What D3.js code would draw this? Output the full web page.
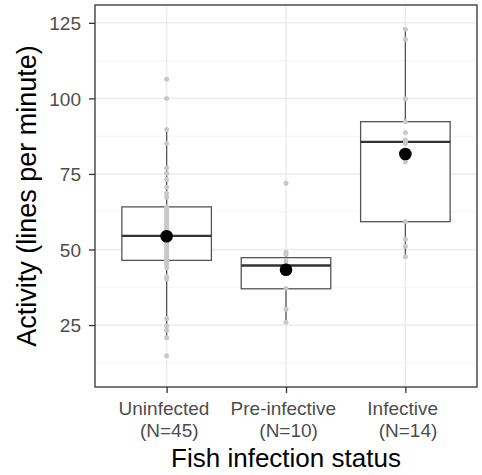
<!DOCTYPE html>
<html>
<head>
<meta charset="utf-8">
<script src="https://cdn.jsdelivr.net/npm/d3@7"></script>
<style>
    body { margin: 0; background: #fff; }
    text { font-family: "Liberation Sans", Arial, sans-serif; }
</style>
</head>
<body>
<svg id="canvas"></svg>
<script>
// chart data
var groups = ['Uninfected', 'Pre-infective', 'Infective'];
var groupN = [45, 10, 14];
var uninfected = [106.3, 100.0, 89.7, 85.1, 77.0, 75.2, 73.2, 70.6, 68.5, 67.3,
    64.1, 63.3, 62.5, 61.6, 60.8, 60.0, 59.1, 58.3, 57.4, 56.6, 55.8, 55.0, 54.6, 54.4,
    53.8, 53.0, 52.2, 51.4, 50.6, 49.8, 49.0, 48.2, 47.6, 47.0, 46.4, 46.0, 45.2, 44.0,
    41.0, 40.2, 27.2, 24.7, 23.3, 20.8, 14.8];
var preInfective = [71.9, 49.1, 48.4, 46.3, 45.0, 44.6, 42.5, 37.1, 30.2, 25.9];
var infective = [122.9, 119.6, 99.8, 92.3, 88.6, 86.2, 85.6, 85.0, 81.5, 79.0, 59.2, 53.4, 51.1, 47.6];
var boxQ1 = [46.4, 37.0, 59.2];
var boxMedian = [54.5, 44.7, 85.6];
var boxQ3 = [64.1, 47.3, 92.3];
var whiskerLow = [20.8, 25.9, 47.6];
var whiskerHigh = [89.7, 49.1, 122.9];
var groupMean = [54.4, 43.3, 81.6];
var yTicks = [25, 50, 75, 100, 125];
var yMinor = [12.5, 37.5, 62.5, 87.5, 112.5];

var points = [uninfected, preInfective, infective];

var width = 482, height = 475;
var panelLeft = 95, panelRight = 477, panelTop = 5, panelBottom = 387;

var svg = d3.select('#canvas')
    .attr('width', width)
    .attr('height', height);

// discrete x scale, ggplot style expansion of 0.6
var xScale = d3.scalePoint()
    .domain(groups)
    .range([panelLeft, panelRight])
    .padding(0.6);
var boxWidth = xScale.step() * 0.75;

var yScale = d3.scaleLinear()
    .domain([4.5, 130.9])
    .range([panelBottom, panelTop]);

// panel background and grid
svg.append('rect')
    .attr('x', panelLeft).attr('y', panelTop)
    .attr('width', panelRight - panelLeft).attr('height', panelBottom - panelTop)
    .attr('fill', '#fff');

svg.selectAll('.minor')
    .data(yMinor)
    .enter()
    .append('line')
    .attr('x1', panelLeft).attr('x2', panelRight)
    .attr('y1', function (d) { return yScale(d); })
    .attr('y2', function (d) { return yScale(d); })
    .attr('stroke', '#f2f2f2')
    .attr('stroke-width', 0.8);

svg.selectAll('.major')
    .data(yTicks)
    .enter()
    .append('line')
    .attr('x1', panelLeft).attr('x2', panelRight)
    .attr('y1', function (d) { return yScale(d); })
    .attr('y2', function (d) { return yScale(d); })
    .attr('stroke', '#ebebeb')
    .attr('stroke-width', 1.4);

svg.selectAll('.vgrid')
    .data(groups)
    .enter()
    .append('line')
    .attr('x1', function (d) { return xScale(d); })
    .attr('x2', function (d) { return xScale(d); })
    .attr('y1', panelTop).attr('y2', panelBottom)
    .attr('stroke', '#ebebeb')
    .attr('stroke-width', 1.4);

// boxplots
var box = svg.selectAll('.box')
    .data(groups)
    .enter()
    .append('g');

box.append('line')
    .attr('x1', function (d) { return xScale(d); })
    .attr('x2', function (d) { return xScale(d); })
    .attr('y1', function (d, i) { return yScale(whiskerHigh[i]); })
    .attr('y2', function (d, i) { return yScale(boxQ3[i]); })
    .attr('stroke', '#555')
    .attr('stroke-width', 1.3);

box.append('line')
    .attr('x1', function (d) { return xScale(d); })
    .attr('x2', function (d) { return xScale(d); })
    .attr('y1', function (d, i) { return yScale(boxQ1[i]); })
    .attr('y2', function (d, i) { return yScale(whiskerLow[i]); })
    .attr('stroke', '#555')
    .attr('stroke-width', 1.3);

box.append('rect')
    .attr('x', function (d) { return xScale(d) - boxWidth / 2; })
    .attr('y', function (d, i) { return yScale(boxQ3[i]); })
    .attr('width', boxWidth)
    .attr('height', function (d, i) { return yScale(boxQ1[i]) - yScale(boxQ3[i]); })
    .attr('fill', '#fff')
    .attr('stroke', '#555')
    .attr('stroke-width', 1.3);

box.append('line')
    .attr('x1', function (d) { return xScale(d) - boxWidth / 2; })
    .attr('x2', function (d) { return xScale(d) + boxWidth / 2; })
    .attr('y1', function (d, i) { return yScale(boxMedian[i]); })
    .attr('y2', function (d, i) { return yScale(boxMedian[i]); })
    .attr('stroke', '#333')
    .attr('stroke-width', 2.4);

// raw points in gray
points.forEach(function (vals, i) {
    svg.selectAll('.pt' + i)
        .data(vals)
        .enter()
        .append('circle')
        .attr('cx', xScale(groups[i]))
        .attr('cy', function (d) { return yScale(d); })
        .attr('r', 2.5)
        .attr('fill', '#c8c8c8');
});

// group means
svg.selectAll('.mean')
    .data(groupMean)
    .enter()
    .append('circle')
    .attr('cx', function (d, i) { return xScale(groups[i]); })
    .attr('cy', function (d) { return yScale(d); })
    .attr('r', 6.3)
    .attr('fill', '#000');

// panel border
svg.append('rect')
    .attr('x', panelLeft).attr('y', panelTop)
    .attr('width', panelRight - panelLeft).attr('height', panelBottom - panelTop)
    .attr('fill', 'none')
    .attr('stroke', '#333')
    .attr('stroke-width', 1.3);

// axes
var yAxis = svg.append('g')
    .attr('transform', 'translate(' + panelLeft + ',0)')
    .call(d3.axisLeft(yScale).tickValues(yTicks).tickSize(6).tickPadding(8));

var xAxis = svg.append('g')
    .attr('transform', 'translate(0,' + panelBottom + ')')
    .call(d3.axisBottom(xScale).tickSize(6).tickFormat(''));

svg.selectAll('.domain').remove();
svg.selectAll('.tick line').attr('stroke', '#333').attr('stroke-width', 1.3);
yAxis.selectAll('text')
    .attr('fill', '#4d4d4d')
    .style('font-size', '19px')
    .attr('dy', '0.35em');

// two line x labels
var xLabels = svg.selectAll('.xlab')
    .data(groups)
    .enter()
    .append('text')
    .attr('text-anchor', 'middle')
    .attr('fill', '#4d4d4d')
    .style('font-size', '19px')
    .style('white-space', 'pre');

xLabels.append('tspan')
    .attr('x', function (d) { return xScale(d); })
    .attr('y', 415)
    .text(function (d) { return d + ' '; });

xLabels.append('tspan')
    .attr('x', function (d) { return xScale(d); })
    .attr('y', 437)
    .text(function (d, i) { return ' (N=' + groupN[i] + ')'; });

// axis titles
svg.append('text')
    .attr('x', (panelLeft + panelRight) / 2)
    .attr('y', 467)
    .attr('text-anchor', 'middle')
    .style('font-size', '26px')
    .attr('fill', '#000')
    .text('Fish infection status');

svg.append('text')
    .attr('transform', 'translate(36,' + (panelTop + panelBottom) / 2 + ') rotate(-90)')
    .attr('text-anchor', 'middle')
    .style('font-size', '27px')
    .attr('fill', '#000')
    .text('Activity (lines per minute)');
</script>
</body>
</html>
